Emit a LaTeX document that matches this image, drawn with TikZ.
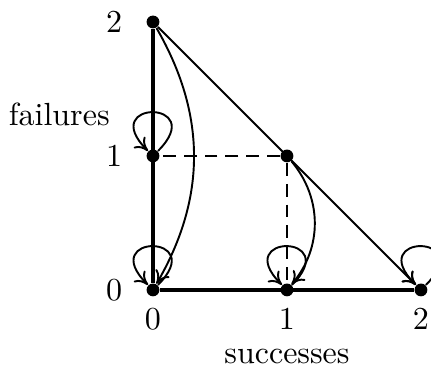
\documentclass[tikz,border=0pt]{standalone}
\usetikzlibrary{arrows.meta}
\tikzset{
  state/.style    = {circle, fill=black, inner sep=0pt, minimum size=4pt},
  axis/.style     = {line width=1pt},
  trans/.style    = {line width=0.6pt, -{To[length=4pt,width=5pt]}},
  proj/.style     = {line width=0.6pt, dash pattern=on 4pt off 2.5pt},
  % self loops sit above the state and come back in from the left
  selfloop/.style = {trans, out=45, in=135, distance=0.8cm},
  lbl/.style      = {inner sep=1pt},
}

\begin{document}
\begin{tikzpicture}[x=1.47cm, y=1.47cm]
    \useasboundingbox (-1.142,-0.575) rectangle (2.075,2.164);

    \node[state] (s00) at (0, 0) {};
    \node[state] (s10) at (1, 0) {};
    \node[state] (s20) at (2, 0) {};
    \node[state] (s01) at (0, 1) {};
    \node[state] (s11) at (1, 1) {};
    \node[state] (s02) at (0, 2) {};

    \draw[axis] (s00) -- (s02);
    \draw[axis] (s00) -- (s20);
    \draw[proj] (s11) -- (s01);
    \draw[proj] (s11) -- (s10);

    \draw[trans] (s02) -- (s20);
    \draw[trans] (s02) to[bend left=30] (s00);
    \draw[trans] (s11) to[bend left=40] (s10);

    \draw[selfloop] (s01) to (s01);
    \draw[selfloop] (s00) to (s00);
    \draw[selfloop] (s10) to (s10);
    \draw[selfloop] (s20) to (s20);

    \node[lbl] (f2) at (-0.29, 2) {2};
    \node[lbl] (f1) at (-0.29, 1) {1};
    \node[lbl] (f0) at (-0.29, 0) {0};
    \node[lbl] (fl) at (-0.70, 1.31) {failures};
    \node[lbl] (c0) at (0, -0.216) {0};
    \node[lbl] (c1) at (1, -0.216) {1};
    \node[lbl] (c2) at (2, -0.216) {2};
    \node[lbl] (cl) at (1, -0.50) {successes};
  \end{tikzpicture}
\end{document}
